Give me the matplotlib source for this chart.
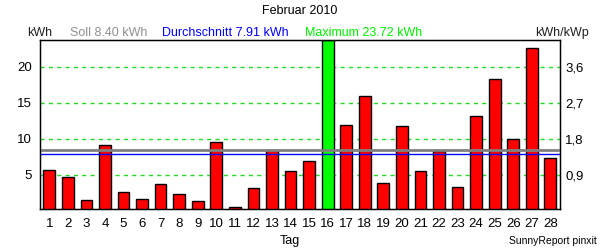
import matplotlib
matplotlib.use("Agg")
import matplotlib.pyplot as plt
import numpy as np

plt.rcParams['font.family'] = ['Liberation Sans', 'DejaVu Sans']

# Tagesertrag Februar 2010
days = list(range(1, 29))
kwh = [5.69, 4.72, 1.53, 9.17, 2.64, 1.67, 3.75, 2.36, 1.39, 9.58,
       0.45, 3.19, 8.37, 5.56, 6.94, 23.72, 11.94, 15.97, 3.89, 11.80,
       5.56, 8.33, 3.33, 13.19, 18.33, 9.90, 22.64, 7.26]
soll = 8.40
avg = 7.91
maximum = 23.72
kwp = 5.556
left_ticks = [5, 10, 15, 20]
right_labels = ["0,9", "1,8", "2,7", "3,6"]

fig = plt.figure(figsize=(6, 2.5), dpi=100)
ax = fig.add_axes([0.0667, 0.163, 0.866, 0.677])

colors = ['#00ff00' if v == maximum else '#ff0000' for v in kwh]
ax.bar(days, kwh, width=0.63, color=colors, edgecolor='black', linewidth=1, zorder=2)

ax.set_xlim(0.5, 28.5)
ax.set_ylim(0.2, 23.7)
ax.set_yticks(left_ticks)
ax.set_xticks(days)
ax.tick_params(length=0, labelsize=9.5, pad=6)
for y in left_ticks:
    ax.axhline(y, color='#22dd22', lw=1, ls=(0, (3, 3)), zorder=1)
ax.axhline(soll, color='#808080', lw=2, zorder=3)
ax.axhline(avg, color='#0000ff', lw=1, zorder=3)
for s in ax.spines.values():
    s.set_color('black')
    s.set_linewidth(1)

ax2 = ax.twinx()
ax2.set_ylim(ax.get_ylim()[0] / kwp, ax.get_ylim()[1] / kwp)
ax2.set_yticks([t / kwp for t in left_ticks])
ax2.set_yticklabels(right_labels)
ax2.tick_params(length=0, labelsize=9.5, pad=4)

fig.text(0.5, 0.955, "Februar 2010", ha='center', va='center', fontsize=9)
hy = 0.868
fig.text(0.045, hy, "kWh", ha='left', va='center', fontsize=9, color='#202020')
fig.text(0.117, hy, "Soll %.2f kWh" % soll, ha='left', va='center', fontsize=9, color='#909090')
fig.text(0.27, hy, "Durchschnitt %.2f kWh" % avg, ha='left', va='center', fontsize=9, color='#0000ff')
fig.text(0.508, hy, "Maximum %.2f kWh" % maximum, ha='left', va='center', fontsize=9, color='#00ee00')
fig.text(0.982, hy, "kWh/kWp", ha='right', va='center', fontsize=9, color='#202020')
fig.text(0.483, 0.035, "Tag", ha='center', va='center', fontsize=9)
fig.text(0.995, 0.035, "SunnyReport pinxit", ha='right', va='center', fontsize=7.5)

fig.savefig("out.png", dpi=100)
